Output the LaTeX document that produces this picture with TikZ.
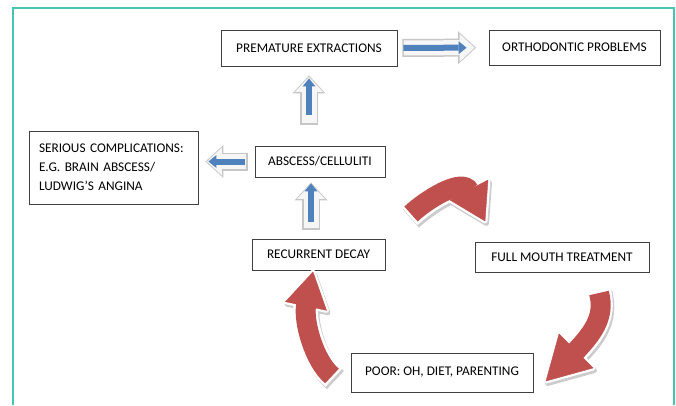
\documentclass[tikz,border=0pt]{standalone}
\usepackage{fontspec}
\setmainfont{Carlito}
\usetikzlibrary{arrows.meta}
\definecolor{frameteal}{RGB}{70,198,178}
\definecolor{cycred}{RGB}{192,80,77}
\definecolor{stepblue}{RGB}{79,129,189}
\tikzset{
    box/.style={draw=black!75, line width=0.9pt, fill=white, inner sep=0pt,
    	font=\fontsize{13.3}{19}\selectfont}
}
\tikzset{
    blkrim/.style={line width=18pt, draw=gray!45,
    	-{Triangle[width=33pt,length=18pt,line width=0pt]}},
    blkbody/.style={line width=15pt, draw=gray!7,
    	-{Triangle[width=28pt,length=15pt,line width=0pt]}},
    blkline/.style={line width=6pt, draw=stepblue,
    	-{Triangle[width=13pt,length=8pt,line width=0pt]}}
}
\tikzset{
    cycshade/.style={draw=gray!40, fill=gray!40, line join=round,
    	transform canvas={xshift=1.5pt, yshift=-2.5pt}},
    cycrim/.style={draw=white, fill=white, line join=round},
    cycred/.style={draw=cycred, fill=cycred}
}

\begin{document}
\begin{tikzpicture}[x=1pt, y=-1pt]
  \useasboundingbox (0,0) rectangle (676,405);
  \draw[frameteal, line width=1.4pt] (13,405) |- (674,8) -- (674,405);

  \node[box, minimum width=176pt, minimum height=36pt] (prem) at (309,48) {PREMATURE EXTRACTIONS};
  \node[box, minimum width=171pt, minimum height=35pt] (ortho) at (574.5,47.5) {ORTHODONTIC PROBLEMS};
  \node[box, minimum width=169pt, minimum height=73pt, text width=149pt, align=left,
    inner xsep=10pt] (compl) at (113.5,167.5) {SERIOUS COMPLICATIONS:\\ E.G. BRAIN ABSCESS/\\ LUDWIG’S ANGINA};
  \node[box, minimum width=130pt, minimum height=31pt] (absc) at (320,161.5) {ABSCESS/CELLULITI};
  \node[box, minimum width=133pt, minimum height=31pt] (decay) at (318.5,254.5) {RECURRENT DECAY};
  \node[box, minimum width=174pt, minimum height=30pt] (fmt) at (562,257) {FULL MOUTH TREATMENT};
  \node[box, minimum width=182pt, minimum height=39pt] (poor) at (442,372.5) {POOR: OH, DIET, PARENTING};

  % blue steps
  \draw[blkrim, shorten <=5pt, shorten >=12.5pt] (prem) -- (ortho);
  \draw[blkbody, shorten <=6.5pt, shorten >=14pt] (prem) -- (ortho);
  \draw[blkline, shorten <=6pt, shorten >=22pt] (prem) -- (ortho);

  \draw[blkrim, shorten <=21pt, shorten >=9pt] (prem.south |- absc.north) -- (prem.south);
  \draw[blkbody, shorten <=22.5pt, shorten >=10.5pt] (prem.south |- absc.north) -- (prem.south);
  \draw[blkline, shorten <=31pt, shorten >=12pt] (prem.south |- absc.north) -- (prem.south);

  \draw[blkrim, shorten <=9pt, shorten >=5pt] ([xshift=-7.5pt]decay.north) -- ([xshift=-7.5pt]decay.north |- absc.south);
  \draw[blkbody, shorten <=10.5pt, shorten >=6.5pt] ([xshift=-7.5pt]decay.north) -- ([xshift=-7.5pt]decay.north |- absc.south);
  \draw[blkline, shorten <=17pt, shorten >=6pt] ([xshift=-7.5pt]decay.north) -- ([xshift=-7.5pt]decay.north |- absc.south);

  \draw[blkrim, shorten <=7pt, shorten >=7pt] (absc.west) -- (absc.west -| compl.east);
  \draw[blkbody, shorten <=8.5pt, shorten >=8.5pt] (absc.west) -- (absc.west -| compl.east);
  \draw[blkline, shorten <=10pt, shorten >=10pt] (absc.west) -- (absc.west -| compl.east);

  % red cycle: tail, controls, head base, barbs and tip
  \coordinate (ctop-t) at (411,214); \coordinate (ctop-c1) at (426,200);
  \coordinate (ctop-c2) at (462,177); \coordinate (ctop-e) at (469,190);
  \coordinate (ctop-b1) at (488,180); \coordinate (ctop-p) at (485,221);
  \coordinate (ctop-b2) at (450,200);

  \coordinate (cright-t) at (599,293); \coordinate (cright-c1) at (606,318);
  \coordinate (cright-c2) at (590,336); \coordinate (cright-e) at (576,351);
  \coordinate (cright-b1) at (559,334); \coordinate (cright-p) at (546,381);
  \coordinate (cright-b2) at (593,368);

  \coordinate (cleft-t) at (332,376); \coordinate (cleft-c1) at (314,361);
  \coordinate (cleft-c2) at (303,320.7); \coordinate (cleft-e) at (306,306);
  \coordinate (cleft-b1) at (285.5,301.7); \coordinate (cleft-p) at (313,272);
  \coordinate (cleft-b2) at (326.5,310.3);

  \foreach \a in {ctop,cright,cleft} {
    \draw[cycshade, fill=none, line width=25pt, shorten <=-2.5pt] (\a-t) .. controls (\a-c1) and (\a-c2) .. (\a-e);
    \filldraw[cycshade, line width=5pt] (\a-b1) -- (\a-p) -- (\a-b2) -- cycle;
  }
  \foreach \a in {ctop,cright,cleft} {
    \draw[cycrim, fill=none, line width=25pt, shorten <=-2.5pt] (\a-t) .. controls (\a-c1) and (\a-c2) .. (\a-e);
    \filldraw[cycrim, line width=5pt] (\a-b1) -- (\a-p) -- (\a-b2) -- cycle;
  }
  \foreach \a in {ctop,cright,cleft} {
    \draw[cycred, fill=none, line width=20pt, shorten >=-1pt] (\a-t) .. controls (\a-c1) and (\a-c2) .. (\a-e);
    \fill[cycred] (\a-b1) -- (\a-p) -- (\a-b2) -- cycle;
  }
\end{tikzpicture}
\end{document}
